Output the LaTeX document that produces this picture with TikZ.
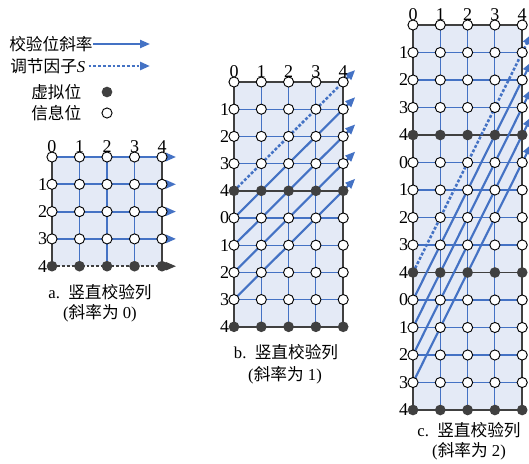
\documentclass[tikz,border=0pt]{standalone}
\usepackage{fontspec}
\setmainfont{Liberation Serif}
\newfontfamily\cjk{Noto Sans CJK SC}
\usetikzlibrary{arrows.meta,calc}
\definecolor{gfill}{HTML}{E4EAF6}
\definecolor{gblue}{HTML}{4472C4}
\definecolor{gdark}{HTML}{404040}
\begin{document}
\begin{tikzpicture}[x=0.75pt,y=-0.75pt,
  font=\fontsize{12.5pt}{15pt}\selectfont,
  info/.style={circle,draw=black,fill=white,line width=0.7pt,inner sep=0pt,minimum size=7.6pt},
  virt/.style={circle,fill=gdark,inner sep=0pt,minimum size=8pt},
  thinline/.style={gblue,line width=0.8pt},
  frameline/.style={gdark,line width=1.1pt},
  slope/.style={gblue,line width=1.6pt,-{Triangle[length=7.5pt,width=6pt]}},
  slopedash/.style={gblue,line width=1.9pt,dash pattern=on 2.2pt off 1.4pt,-{Triangle[length=7.5pt,width=6pt]}},
  darkdash/.style={gdark,line width=1.2pt,dash pattern=on 2.2pt off 1.5pt,-{Triangle[length=7.5pt,width=6pt]}},
  lbl/.style={inner sep=0pt},
  num/.style={inner sep=0pt,font=\fontsize{13.5pt}{15pt}\selectfont},
]
\useasboundingbox (0,0) rectangle (529,464);

% ---------------- legend ----------------
\node[lbl,anchor=west] (leg1) at (9,44) {\cjk 校验位斜率};
\coordinate (leg1e) at (150,44);
\draw[slope] (leg1.east) -- (leg1e);
\node[lbl,anchor=west] (leg2) at (10,66) {{\cjk 调节因子}\textit{S}};
\coordinate (leg2s) at ($(leg2.east)+(3,0)$);
\coordinate (leg2e) at (150,66);
\draw[slopedash] (leg2s) -- (leg2e);
\node[lbl,anchor=west] (leg3) at (31,92) {\cjk 虚拟位};
\node[virt] (legv) at (107,92) {};
\node[lbl,anchor=west] (leg4) at (31,113) {\cjk 信息位};
\node[info] (legi) at (107,113) {};

% ---------------- panel a ----------------
\foreach \i in {0,...,4} \foreach \j in {0,...,4}
  \coordinate (a-\i-\j) at ({52+27.5*\i},{157+27.3*\j});
\fill[gfill] (a-0-0) rectangle (a-4-4);
\foreach \i in {1,2,3} \draw[thinline] (a-\i-0) -- (a-\i-4);
\draw[frameline] (a-0-0) -- (a-0-4);
\draw[frameline] (a-4-0) -- (a-4-4);
\foreach \j in {0,...,3} {
  \coordinate (at-\j) at ($(a-4-\j)+(14,0)$);
  \draw[slope] (a-0-\j) -- (at-\j);
}
\coordinate (at-4) at ($(a-4-4)+(14,0)$);
\draw[darkdash] (a-0-4) -- (at-4);
\foreach \i in {0,...,4} {
  \foreach \j in {0,...,3} \node[info] (na-\i-\j) at (a-\i-\j) {};
  \node[virt] (na-\i-4) at (a-\i-4) {};
  \node[num] (acl-\i) at ($(a-\i-0)+(0,-10.5)$) {\i};
}
\foreach \j in {1,...,4} \node[num] (arl-\j) at ($(a-0-\j)+(-9.5,0)$) {\j};
\node[lbl] (capa1) at (100,292) {a.\ \ {\cjk 竖直校验列}};
\node[lbl] (capa2) at (100,313) {({\cjk 斜率为} 0)};

% ---------------- panel b ----------------
\foreach \i in {0,...,4} \foreach \j in {0,...,9}
  \coordinate (b-\i-\j) at ({234+27.3*\i},{82+27.2*\j});
\fill[gfill] (b-0-0) rectangle (b-4-9);
\foreach \i in {1,2,3} \draw[thinline] (b-\i-0) -- (b-\i-9);
\foreach \j in {1,2,3,5,6,7,8} \draw[thinline] (b-0-\j) -- (b-4-\j);
\draw[frameline] (b-0-0) -- (b-0-9);
\draw[frameline] (b-4-0) -- (b-4-9);
\foreach \j in {0,4,9} \draw[frameline] (b-0-\j) -- (b-4-\j);
\coordinate (bt-0) at ($(b-4-0)+(12,-12)$);
\draw[slopedash] (b-0-4) -- (bt-0);
\foreach \k in {1,...,4} {
  \pgfmathtruncatemacro\s{\k+4}
  \coordinate (bt-\k) at ($(b-4-\k)+(12,-12)$);
  \draw[slope] (b-0-\s) -- (bt-\k);
}
\foreach \i in {0,...,4} {
  \foreach \j in {0,...,9} {
    \pgfmathtruncatemacro\v{mod(\j,5)}
    \ifnum\v=4 \node[virt] (nb-\i-\j) at (b-\i-\j) {};
    \else \node[info] (nb-\i-\j) at (b-\i-\j) {}; \fi
  }
  \node[num] (bcl-\i) at ($(b-\i-0)+(0,-10.5)$) {\i};
}
\foreach \j in {1,...,9} {
  \pgfmathtruncatemacro\v{mod(\j,5)}
  \node[num] (brl-\j) at ($(b-0-\j)+(-9.5,0)$) {\v};
}
\node[lbl] (capb1) at (286,352) {b.\ \ {\cjk 竖直校验列}};
\node[lbl] (capb2) at (285,375) {({\cjk 斜率为} 1)};

% ---------------- panel c ----------------
\foreach \i in {0,...,4} \foreach \j in {0,...,14}
  \coordinate (c-\i-\j) at ({413+27.3*\i},{25+27.5*\j});
\fill[gfill] (c-0-0) rectangle (c-4-14);
\foreach \i in {1,2,3} \draw[thinline] (c-\i-0) -- (c-\i-14);
\foreach \j in {1,2,3,5,6,7,8,10,11,12,13} \draw[thinline] (c-0-\j) -- (c-4-\j);
\draw[frameline] (c-0-0) -- (c-0-14);
\draw[frameline] (c-4-0) -- (c-4-14);
\foreach \j in {0,4,9,14} \draw[frameline] (c-0-\j) -- (c-4-\j);
\coordinate (ct-0) at ($(c-4-1)+(9,-18)$);
\draw[slopedash] (c-0-9) -- (ct-0);
\foreach \k in {1,...,4} {
  \pgfmathtruncatemacro\s{\k+9}
  \pgfmathtruncatemacro\e{\k+1}
  \coordinate (ct-\k) at ($(c-4-\e)+(9,-18)$);
  \draw[slope] (c-0-\s) -- (ct-\k);
}
\foreach \i in {0,...,4} {
  \foreach \j in {0,...,14} {
    \pgfmathtruncatemacro\v{mod(\j,5)}
    \ifnum\v=4 \node[virt] (nc-\i-\j) at (c-\i-\j) {};
    \else \node[info] (nc-\i-\j) at (c-\i-\j) {}; \fi
  }
  \node[num] (ccl-\i) at ($(c-\i-0)+(0,-10.5)$) {\i};
}
\foreach \j in {1,...,14} {
  \pgfmathtruncatemacro\v{mod(\j,5)}
  \node[num] (crl-\j) at ($(c-0-\j)+(-9.5,0)$) {\v};
}
\node[lbl] (capc1) at (469,430) {c.\ \ {\cjk 竖直校验列}};
\node[lbl] (capc2) at (469,451) {({\cjk 斜率为} 2)};
\end{tikzpicture}
\end{document}
